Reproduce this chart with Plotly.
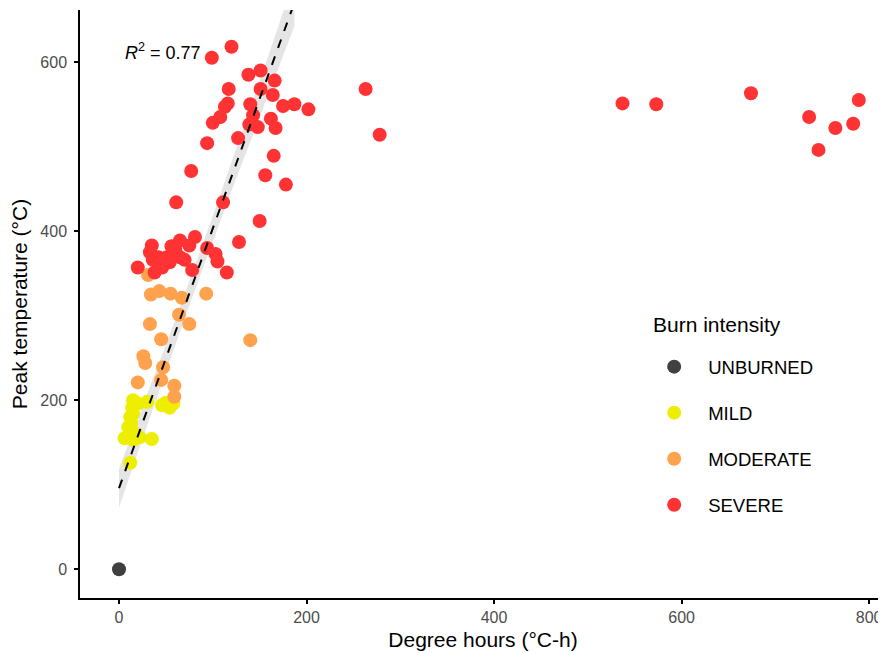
import numpy as np
import plotly.graph_objects as go

# ---- data ----
unburned_x = [0]
unburned_y = [0]

mild_x = [15, 30, 14, 12, 15, 46, 58, 54, 10, 14, 8, 15, 35, 22, 12, 19, 6, 20, 50, 13]
mild_y = [200, 198, 191, 180, 184, 194, 196, 191, 168, 164, 156, 153, 154, 156, 126, 158, 155, 196, 197, 173]

moderate_x = [31, 34, 43, 55, 67, 93, 33, 64, 75, 45, 140, 26, 28, 47, 45, 20, 59, 59]
moderate_y = [348, 325, 329, 326, 321, 326, 290, 301, 290, 272, 271, 252, 244, 239, 224, 221, 217, 204]

severe_x = [99, 120, 138, 151, 166, 117, 151, 164, 175, 187, 202, 116, 113, 140, 143, 108, 100,
            162, 139, 148, 167, 127, 94, 165, 77, 156, 178, 61, 111, 150, 128, 263, 278,
            20, 33, 35, 36, 38, 42, 46, 51, 54, 56, 65, 65, 70, 75, 78, 81, 94, 103, 105, 115, 60, 45,
            537, 573, 674, 736, 764, 783, 789, 746]
severe_y = [605, 618, 585, 590, 578, 568, 568, 561, 548, 550, 544, 551, 547, 550, 537, 535, 528,
            533, 526, 523, 522, 510, 504, 489, 471, 466, 455, 434, 434, 412, 387, 568, 514,
            357, 375, 383, 366, 351, 369, 357, 369, 363, 382, 389, 369, 366, 383, 354, 393, 380, 373, 364, 351, 378, 362,
            551, 550, 563, 535, 522, 527, 555, 496]

x_ticks = [0, 200, 400, 600, 800]
y_ticks = [0, 200, 400, 600]

# fitted linear model
fit_intercept = 96
fit_slope = 3.07
fit_xmin, fit_xmax = 0, 187
fit_se_min, fit_xbar, fit_spread = 14, 80, 62
r2_label = "<i>R</i><sup>2</sup> = 0.77"

# ---- figure ----
font_family = "Liberation Sans, Arial, sans-serif"
fig = go.Figure()

xs = np.linspace(fit_xmin, fit_xmax, 60)
ys = fit_intercept + fit_slope * xs
hw = fit_se_min * np.sqrt(1 + ((xs - fit_xbar) / fit_spread) ** 2)

fig.add_trace(go.Scatter(
    x=np.concatenate([xs, xs[::-1]]), y=np.concatenate([ys + hw, (ys - hw)[::-1]]),
    fill="toself", fillcolor="rgba(153,153,153,0.25)", line=dict(width=0),
    mode="lines", showlegend=False, hoverinfo="skip"))

groups = [
    ("UNBURNED", unburned_x, unburned_y, "#404040"),
    ("MILD", mild_x, mild_y, "#EEEE00"),
    ("MODERATE", moderate_x, moderate_y, "#FFA24D"),
    ("SEVERE", severe_x, severe_y, "#FF3333"),
]
for name, gx, gy, col in groups:
    fig.add_trace(go.Scatter(
        x=gx, y=gy, mode="markers", name=name, legendgroup=name,
        marker=dict(color=col, size=14, line=dict(width=0))))

fig.add_trace(go.Scatter(
    x=xs, y=ys, mode="lines", line=dict(color="black", width=2, dash="dash"),
    showlegend=False, hoverinfo="skip"))

fig.add_annotation(x=4, y=612, xref="x", yref="y", text=r2_label, showarrow=False,
                   xanchor="left", yanchor="middle",
                   font=dict(family=font_family, size=18, color="black"))

# legend title as annotation (placed at the reference position)
fig.add_annotation(x=0.708, y=0.465, xref="paper", yref="paper", text="Burn intensity",
                   showarrow=False, xanchor="left", yanchor="middle",
                   font=dict(family=font_family, size=21, color="black"))

axis_common = dict(showgrid=False, zeroline=False, showline=True, linecolor="black",
                   linewidth=1.5, ticks="outside", tickcolor="black", ticklen=4, tickwidth=1.5,
                   tickfont=dict(family=font_family, size=16, color="#4D4D4D"))

# page has an 8px body margin: shrink the figure and margins by 8px to compensate
fig.update_layout(
    width=878, height=645,
    margin=dict(l=72, r=0, t=2, b=55),
    paper_bgcolor="white", plot_bgcolor="white",
    font=dict(family=font_family, color="black"),
    xaxis=dict(range=[-41.6, 818], tickvals=x_ticks,
               title=dict(text="Degree hours (°C-h)", font=dict(size=21, color="black"), standoff=7),
               **axis_common),
    yaxis=dict(range=[-34, 661.5], tickvals=y_ticks, ticklabelstandoff=4,
               title=dict(text="Peak temperature (°C)", font=dict(size=21, color="black"), standoff=9),
               **axis_common),
    legend=dict(x=0.695, y=0.425, xanchor="left", yanchor="top",
                font=dict(size=18.5, color="black"), itemwidth=58, tracegroupgap=19,
                bgcolor="rgba(0,0,0,0)"),
    showlegend=True,
)

fig.write_html("out.html")
